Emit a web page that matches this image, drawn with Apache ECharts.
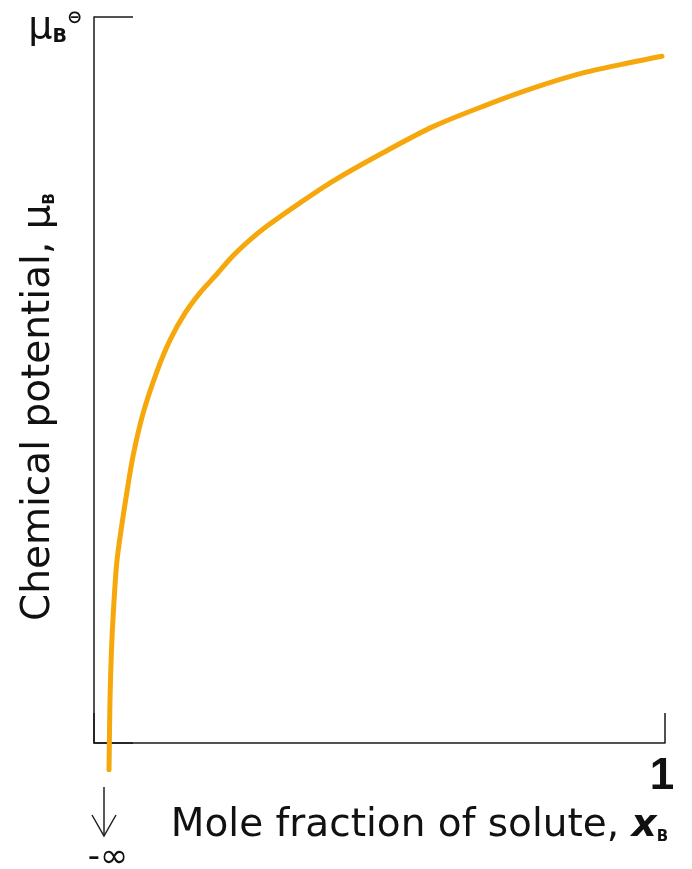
<!DOCTYPE html>
<html>
<head>
<meta charset="utf-8">
<script src="https://cdn.jsdelivr.net/npm/echarts@6/dist/echarts.min.js"></script>
<style>
html,body{margin:0;padding:0;background:#fff;}
#c{width:692px;height:869px;}
</style>
</head>
<body>
<div id="c"></div>
<script>
// Mole fraction of solute (x_B)
const moleFraction = [0.0263, 0.0280, 0.0306, 0.0338, 0.0398, 0.0485, 0.0573, 0.0688, 0.0863, 0.1098, 0.1331, 0.1594, 0.1856, 0.2154, 0.2434, 0.2732, 0.3030, 0.3608, 0.4186, 0.5061, 0.5937, 0.6813, 0.7688, 0.8564, 0.9440, 0.9947];
// Chemical potential (arbitrary units, 100 = standard potential mu_B)
const chemPotential = [-3.7, 5.9, 12.8, 17.9, 24.8, 29.9, 34.4, 39.7, 45.5, 51.1, 55.5, 59.2, 62.0, 64.6, 67.1, 69.3, 71.2, 74.4, 77.4, 81.3, 84.9, 87.7, 90.2, 92.3, 93.8, 94.6];
const xTicks = [0, 1];
const yTicks = [0, 100];

const FONT = 'DejaVu Sans';
const chart = echarts.init(document.getElementById('c'), null, {renderer: 'canvas'});
const curve = moleFraction.map((x, i) => [x, chemPotential[i]]);

chart.setOption({
  animation: false,
  backgroundColor: '#ffffff',
  grid: {left: 94, top: 17, right: 27, bottom: 126, containLabel: false, outerBoundsMode: 'none'},
  xAxis: {
    type: 'value', min: xTicks[0], max: xTicks[1], interval: 1,
    axisLine: {show: true, onZero: false, lineStyle: {color: '#1a1a1a', width: 1.5}},
    axisTick: {show: true, inside: true, length: 30, lineStyle: {color: '#1a1a1a', width: 1.5}},
    splitLine: {show: false},
    axisLabel: {
      margin: 12,
      formatter: v => v === 1 ? '1' : '',
      fontFamily: 'Liberation Sans', fontWeight: 'bold', fontSize: 44, color: '#111',
      padding: [0, 6, 0, 0]
    },
    name: '{n|Mole fraction of solute, }{x|x}{s|B}',
    nameLocation: 'middle',
    nameGap: 63,
    nameMoveOverlap: false,
    nameTextStyle: {
      padding: [0, 0, 0, 80],
      rich: {
        n: {fontFamily: FONT, fontSize: 39, color: '#111', verticalAlign: 'bottom'},
        x: {fontFamily: FONT, fontSize: 39, fontStyle: 'italic', fontWeight: 'bold', color: '#111', verticalAlign: 'bottom'},
        s: {fontFamily: FONT, fontSize: 15, fontWeight: 'bold', color: '#111', verticalAlign: 'bottom'}
      }
    }
  },
  yAxis: {
    type: 'value', min: yTicks[0], max: yTicks[1], interval: 100,
    axisLine: {show: true, onZero: false, lineStyle: {color: '#1a1a1a', width: 1.5}},
    axisTick: {show: true, inside: true, length: 39, lineStyle: {color: '#1a1a1a', width: 1.5}},
    splitLine: {show: false},
    axisLabel: {
      margin: 12,
      padding: [22, 0, 0, 0],
      formatter: v => v === 100 ? '{mu|μ}{sub|B}{sup|⊖}' : '',
      rich: {
        mu: {fontFamily: FONT, fontSize: 38, color: '#111', verticalAlign: 'bottom'},
        sub: {fontFamily: FONT, fontSize: 19, fontWeight: 'bold', color: '#111', verticalAlign: 'bottom'},
        sup: {fontFamily: FONT, fontSize: 18, fontWeight: 'bold', color: '#111', verticalAlign: 'top'}
      }
    },
    name: '{n|Chemical potential, μ}{s|B}',
    nameLocation: 'middle',
    nameGap: 36,
    nameRotate: 90,
    nameMoveOverlap: false,
    nameTextStyle: {
      padding: [0, 54, 0, 0],
      rich: {
        n: {fontFamily: FONT, fontSize: 39, color: '#111', verticalAlign: 'bottom'},
        s: {fontFamily: FONT, fontSize: 15, fontWeight: 'bold', color: '#111', verticalAlign: 'bottom'}
      }
    }
  },
  series: [{
    type: 'line',
    data: curve,
    smooth: 0.3,
    showSymbol: false,
    clip: false,
    lineStyle: {color: '#F6A70C', width: 5, cap: 'round', join: 'round'}
  }],
  graphic: [
    {type: 'line', shape: {x1: 104, y1: 787, x2: 104, y2: 836}, style: {stroke: '#222', lineWidth: 1.5}},
    {type: 'polyline', shape: {points: [[92, 815], [104, 836], [116, 815]]}, style: {stroke: '#222', lineWidth: 1.5, fill: null}},
    {type: 'text', x: 108, y: 858, style: {text: '-∞', fontFamily: FONT, fontSize: 34, fill: '#111', align: 'center', verticalAlign: 'middle'}}
  ]
});
</script>
</body>
</html>
